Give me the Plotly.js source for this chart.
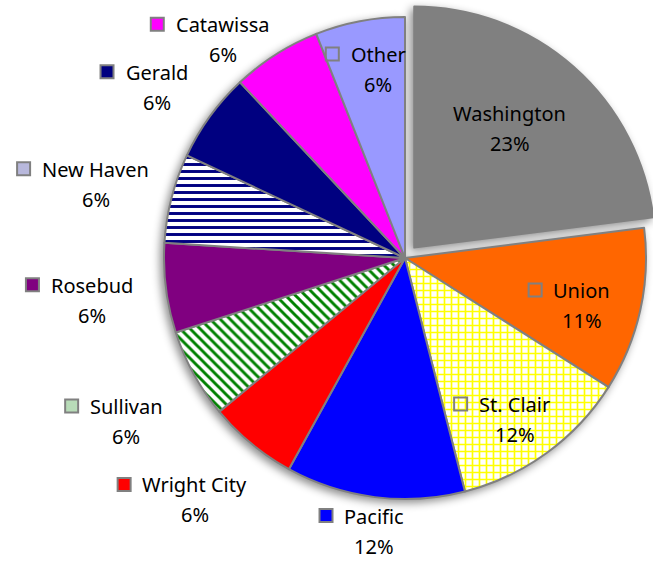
<!DOCTYPE html>
<html>
<head>
<meta charset="utf-8">
<script src="https://cdn.plot.ly/plotly-3.0.1.min.js"></script>
<style>html,body{margin:0;padding:0;background:#fff;overflow:hidden}</style>
</head>
<body>
<div id="chart" style="width:670px;height:561px"></div>
<script>
// ---- data ----
const towns = ["Washington","Union","St. Clair","Pacific","Wright City","Sullivan","Rosebud","New Haven","Gerald","Catawissa","Other"];
const shares = [23, 11, 12, 12, 6, 6, 6, 6, 6, 6, 6];

// ---- styles ----
const fillColors = ["#808080","#FF6600","#FFFFFF","#0000FF","#FF0000","#FFFFFF","#800080","#FFFFFF","#000080","#FF00FF","#9999FF"];
const patternShapes = ["","","+","","","\\","","-","","",""];
const patternColors = ["","","#FFFF00","","","#008000","","#000080","","",""];
const keyFill = ["","rgba(0,0,0,0)","rgba(0,0,0,0)","#0000FF","#FF0000","#B8DCB8","#800080","#B8B8DC","#000080","#FF00FF","rgba(0,0,0,0)"];
const pulls = [0.058,0,0,0,0,0,0,0,0,0,0];
// label placement: radial distance (in radii) and angle nudge (deg)
const labelDist = [0.69,0.76,0.81,1.14,1.33,1.34,1.31,1.32,1.25,1.18,0.79];
const labelNudge = [-2.3,2.4,1.8,-0.8,1.4,-1.6,-0.5,-1.0,-1.5,-7.5,2.7];

const W = 670, H = 561;
const CX = 405, CY = 258, BOX = 510;
const FONT = 'Noto Sans';
const FS = 20;

const domX = [(CX - BOX/2)/W, (CX + BOX/2)/W];
const domY = [(H - CY - BOX/2)/H, (H - CY + BOX/2)/H];
const maxPull = Math.max(...pulls);
const R = BOX / (2 + 2*maxPull);

const trace = {
  type: 'pie',
  labels: towns,
  values: shares,
  textinfo: 'none',
  sort: false,
  direction: 'clockwise',
  rotation: 0,
  pull: pulls,
  marker: {
    colors: fillColors,
    line: {color: '#808080', width: 2},
    pattern: {shape: patternShapes, fgcolor: patternColors, bgcolor: fillColors, size: 7, solidity: 0.42}
  },
  domain: {x: domX, y: domY},
  hoverinfo: 'none',
  showlegend: false
};

// text measurement
const ctx = document.createElement('canvas').getContext('2d');
ctx.font = FS + 'px "' + FONT + '"';

const total = shares.reduce((a,b)=>a+b,0);
const annotations = [];
const shapes = [];
let cum = 0;
shares.forEach((v, i) => {
  const mid = (cum + v/2) / total * 360;
  cum += v;
  const th = (mid + labelNudge[i]) * Math.PI/180;
  const d = labelDist[i] * R;
  const px = CX + d*Math.sin(th);
  const py = CY - d*Math.cos(th);
  const xp = px / W, yp = 1 - py / H;
  const font = {family: FONT, size: FS, color: '#000'};
  annotations.push({xref:'paper', yref:'paper', x:xp, y:yp, yshift:15, text:towns[i], showarrow:false, xanchor:'center', yanchor:'middle', font});
  annotations.push({xref:'paper', yref:'paper', x:xp, y:yp, yshift:-15, text:Math.round(v/total*100)+'%', showarrow:false, xanchor:'center', yanchor:'middle', font});
  if (keyFill[i]) {
    const tw = ctx.measureText(towns[i]).width;
    shapes.push({type:'rect', xref:'paper', yref:'paper', xsizemode:'pixel', ysizemode:'pixel',
      xanchor: xp, yanchor: yp, x0: -(tw/2 + 12 + 13), x1: -(tw/2 + 12), y0: 15 - 6, y1: 15 + 7,
      line:{color:'#808080', width:2}, fillcolor: keyFill[i]});
  }
});

Plotly.newPlot('chart', [trace], {
  width: W, height: H,
  margin: {l: 0, r: 0, t: 0, b: 0},
  paper_bgcolor: '#fff',
  showlegend: false,
  annotations, shapes
}, {displayModeBar: false, staticPlot: true}).then(() => {
  const pl = document.querySelector('.pielayer');
  if (pl) pl.style.filter = 'drop-shadow(-3px 3px 4px rgba(0,0,0,0.45))';
});
</script>
</body>
</html>
